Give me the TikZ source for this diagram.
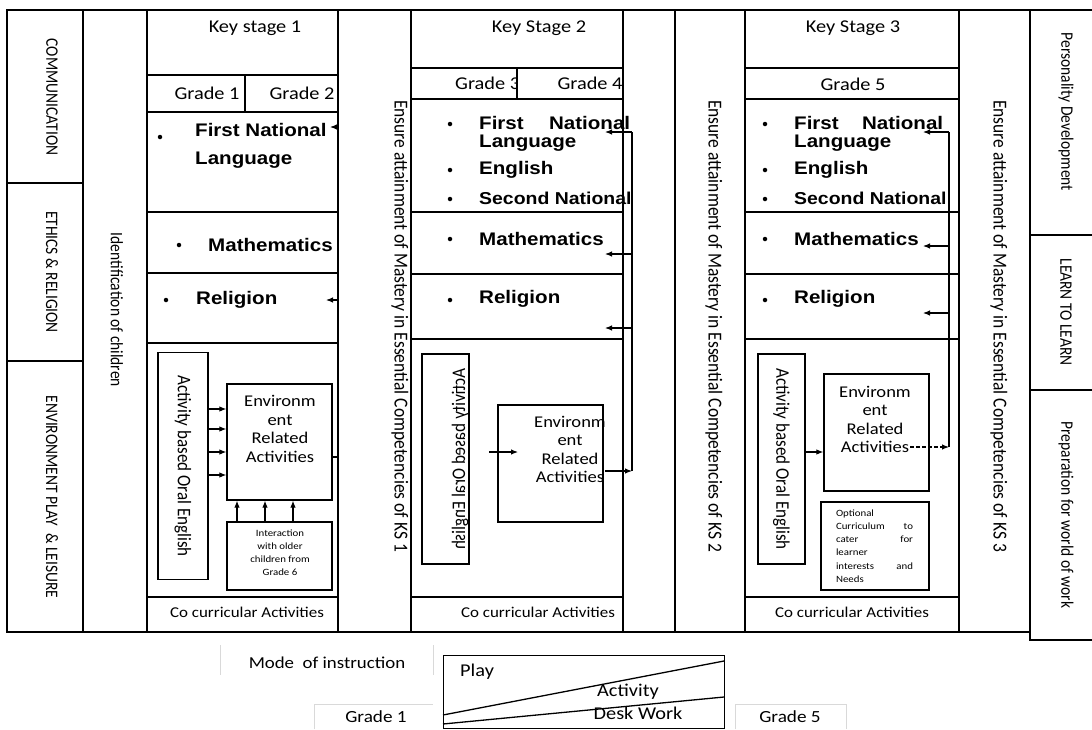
\documentclass[tikz,border=0pt]{standalone}
\usepackage{fontspec}
\setmainfont{Carlito}
\newfontfamily\hfont{Carlito}[FakeStretch=1.13]
\newfontfamily\subjfont{Liberation Sans}[FakeStretch=1.13]
\usetikzlibrary{arrows.meta}
\newcommand{\fsz}[1]{\fontsize{#1}{#1}\selectfont}
\newcommand{\fszl}[2]{\fontsize{#1}{#2}\selectfont}
\newcommand{\jline}[3]{\hbox to #1{#2\hfill #3}}

\tikzset{
  frame/.style={line width=1.3pt},
  faint/.style={line width=0.8pt, black!15},
  lab/.style={inner sep=0pt, font=\hfont\fsz{18}},
  smalllab/.style={inner sep=0pt, font=\hfont\fsz{15}},
  subj/.style={inner sep=0pt, anchor=west, font=\subjfont\bfseries\fsz{18.2}},
  blt/.style={circle, fill, inner sep=0pt, minimum size=4.5pt},
  vlab/.style={inner sep=0pt, rotate=-90, yscale=1.13, font=\fsz{15.5}},
  box/.style={draw, line width=1.3pt, inner sep=0pt},
  arr/.style={-{Latex[length=7pt,width=5.5pt]}, line width=1.1pt},
}

\begin{document}
\begin{tikzpicture}[x=1pt, y=-1pt]
\useasboundingbox (0,0) rectangle (1092,729);

\draw[frame] (7,10) rectangle (1030,632);
\foreach \x in {83,147,338,411,623,675,745,959}
  \draw[frame] (\x,10) -- (\x,632);
\foreach \y in {183,361}
  \draw[frame] (7,\y) -- (83,\y);
\foreach \y in {75,112,212,273,343,597}
  \draw[frame] (147,\y) -- (338,\y);
\foreach \y in {68,99,212,274,339,597}
  \draw[frame] (411,\y) -- (623,\y) (745,\y) -- (959,\y);
\draw[frame] (245,75) -- (245,112) (517,68) -- (517,99);
\draw[frame] (1030,10) -- (1092,10) (1030,632) -- (1030,640) -- (1092,640);
\foreach \y in {235,390}
  \draw[frame] (1030,\y) -- (1092,\y);

\node[vlab] (comm) at (52,97) {COMMUNICATION};
\node[vlab] (ethic) at (52,272) {ETHICS \& RELIGION};
\node[vlab] (envpl) at (52,497) {ENVIRONMENT PLAY\ \ \& LEISURE};
\node[vlab] (ident) at (117,310) {Identification of children};
\foreach \x/\k in {400/1,714/2,999/3}
  \node[vlab, font=\fsz{17.5}] (ens\k) at (\x,326) {Ensure attainment of Mastery in Essential Competencies of KS \k};
\node[vlab] (pers) at (1066,112) {Personality Development};
\node[vlab] (l2l) at (1066,312) {LEARN TO LEARN};
\node[vlab] (prep) at (1066,515) {Preparation for world of work};

\node[lab] (ks1) at (255,28) {Key stage 1};
\node[lab] (g1) at (207,93) {Grade 1};
\node[lab] (g2) at (302,93) {Grade 2};
\node[blt] (b11) at (160,137) {};
\node[subj] (fnl1) at (195,130) {First National};
\node[subj] (lang1) at (195,160) {Language};
\node[blt] (b12) at (179,245) {};
\node[subj] (math1) at (208,245) {Mathematics};
\node[blt] (b13) at (166,300) {};
\node[subj] (rel1) at (196,300) {Religion};
\foreach \y/\l in {127/8,300/12}{
  \coordinate (t1\y) at (338,\y);
  \coordinate (h1\y) at (338-\l,\y);
  \draw[arr] (t1\y) -- (h1\y);
}
\node[box, minimum width=50, minimum height=227] (oral1) at (183,466) {};
\node[vlab, font=\fsz{17}] (oral1t) at (oral1) {Activity based Oral English};
\node[box, minimum width=105, minimum height=116] (env1) at (279.5,442) {};
\node[lab, align=center, font=\hfont\fszl{16.4}{18.5}] (env1t) at (280,429) {Environm\\ent\\Related\\Activities};
\node[box, minimum width=105, minimum height=68] (int1) at (279.5,556) {};
\node[lab, align=center, font=\hfont\fszl{9.6}{13}] (int1t) at (280,553) {Interaction\\with older\\children from\\Grade 6};
\foreach \y in {409,429,452,475}
  \draw[arr] (oral1.east |- 0,\y) -- (env1.west |- 0,\y);
\foreach \x in {237,265,293}
  \draw[arr] (int1.north -| \x,0) -- (env1.south -| \x,0);
\coordinate (r1) at (338,457);
\draw[frame] (env1.east |- r1) -- (r1);
\node[smalllab] (cc1) at (247,612) {Co curricular Activities};

\node[lab] (ks2) at (539,28) {Key Stage 2};
\begin{scope}
  \clip (411,68) rectangle (516,99);
  \node[lab, anchor=west] (g3) at (455,83) {Grade 3};
\end{scope}
\node[lab] (g4) at (590,83) {Grade 4};
\foreach \y in {124,170,199,239,300}
  \node[blt] (b2\y) at (450,\y) {};
\node[subj] (fnl2) at (479,123) {\jline{151pt}{First}{National}};
\node[subj] (lang2) at (479,143) {Language};
\node[subj] (eng2) at (479,170) {English};
\node[subj, font=\subjfont\bfseries\fsz{17.2}] (snl2) at (479,198) {Second National};
\node[subj] (math2) at (479,239) {Mathematics};
\node[subj] (rel2) at (479,299) {Religion};
\coordinate (v2t) at (632,132);
\coordinate (v2b) at (632,471);
\draw[line width=1.1pt] (v2t) -- (v2b);
\foreach \y in {132,254,328}{
  \coordinate (s2\y) at (632,\y);
  \coordinate (e2\y) at (605,\y);
  \draw[arr] (s2\y) -- (e2\y);
}
\node[box, minimum width=47, minimum height=210] (oral2) at (445.5,459) {};
\node[vlab, yscale=-1, font=\fsz{17}] (oral2t) at (460,459) {Activity based Oral English};
\node[box, minimum width=105, minimum height=117] (env2) at (550.5,463.5) {};
\node[lab, align=center, font=\hfont\fszl{16.4}{18.3}] (env2t) at (570,449.5) {Environm\\ent\\Related\\Activities};
\coordinate (a2s) at (489,452);
\coordinate (a2e) at (518,452);
\draw[arr] (a2s) -- (a2e);
\coordinate (env2o) at (605,471);
\draw[arr] (env2o) -- (v2b);
\node[smalllab] (cc2) at (538,612) {Co curricular Activities};

\node[lab] (ks3) at (853,28) {Key Stage 3};
\node[lab] (g5) at (853,84) {Grade 5};
\foreach \y in {124,170,199,239,300}
  \node[blt] (b3\y) at (765,\y) {};
\node[subj] (fnl3) at (794,123) {\jline{149pt}{First}{National}};
\node[subj] (lang3) at (794,143) {Language};
\node[subj] (eng3) at (794,170) {English};
\node[subj, font=\subjfont\bfseries\fsz{17.2}] (snl3) at (794,198) {Second National};
\node[subj] (math3) at (794,239) {Mathematics};
\node[subj] (rel3) at (794,299) {Religion};
\coordinate (v3t) at (949,132);
\coordinate (v3b) at (949,447);
\draw[line width=1.1pt] (v3t) -- (v3b);
\foreach \y in {132,246,313}{
  \coordinate (s3\y) at (949,\y);
  \coordinate (e3\y) at (923,\y);
  \draw[arr] (s3\y) -- (e3\y);
}
\node[box, minimum width=47, minimum height=210] (oral3) at (781.5,459) {};
\node[vlab, font=\fsz{17}] (oral3t) at (oral3) {Activity based Oral English};
\node[box, minimum width=105, minimum height=117] (env3) at (876.5,432.5) {};
\node[lab, align=center, font=\hfont\fszl{16.4}{18.3}] (env3t) at (875,419.5) {Environm\\ent\\Related\\Activities};
\draw[arr] (oral3.east |- 0,452) -- (env3.west |- 0,452);
\coordinate (env3o) at (910,447);
\draw[arr, dash pattern=on 4pt off 2pt] (env3o) -- (v3b);
\node[box, minimum width=108, minimum height=88] (opt3) at (875,546) {};
\node[lab, align=left, font=\hfont\fszl{9.6}{13.2}] (opt3t) at (874.5,546) {Optional\\\jline{77pt}{Curriculum}{to}\\\jline{77pt}{cater}{for}\\learner\\\jline{77pt}{interests}{and}\\Needs};
\node[smalllab] (cc3) at (852,612) {Co curricular Activities};

\node[lab, font=\hfont\fsz{16.7}] (mode) at (327,663) {Mode\ \ of instruction};
\draw[faint] (220,645) -- (220,675) (433,645) -- (433,675);
\draw[faint] (314,729) -- (314,704) -- (433,704);
\draw[faint] (735,729) -- (735,704) -- (846,704) -- (846,729);
\node[box, minimum width=281, minimum height=73, anchor=north west] (pbox) at (443,655) {};
\coordinate (d1a) at (443,715);
\coordinate (d1b) at (724,661);
\coordinate (d2a) at (443,724);
\coordinate (d2b) at (724,697);
\draw[frame] (d1a) -- (d1b) (d2a) -- (d2b);
\node[lab, anchor=west] (play) at (460,672) {Play};
\node[lab] (act) at (628,692) {Activity};
\node[lab] (desk) at (638,713) {Desk Work};
\node[lab, font=\hfont\fsz{17}] (gr1) at (376,717) {Grade 1};
\node[lab, font=\hfont\fsz{17}] (gr5) at (790,717) {Grade 5};
\end{tikzpicture}
\end{document}
